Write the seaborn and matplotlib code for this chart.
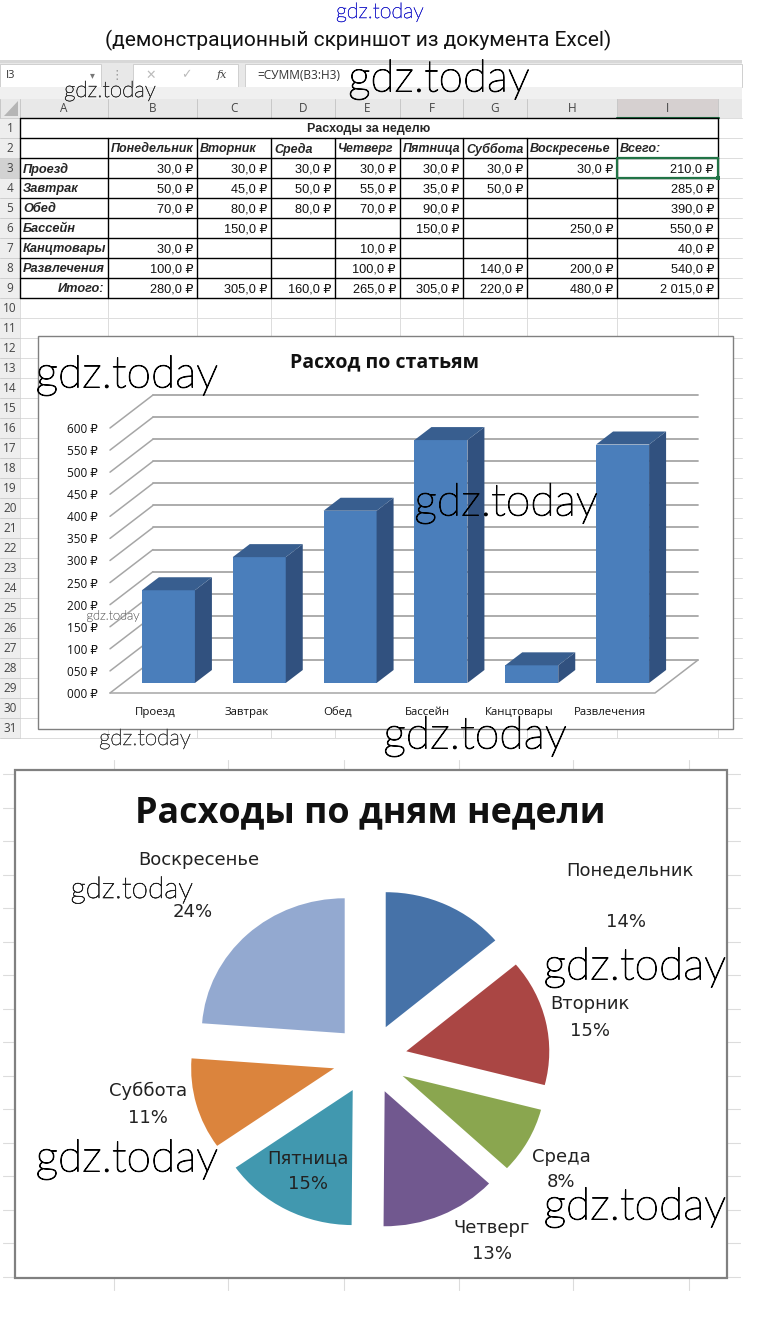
"""Excel screenshot with a table, a 3D-looking bar chart and an exploded pie."""

import matplotlib
matplotlib.use('Agg')
import matplotlib.pyplot as plt
import matplotlib.patheffects as pe
import seaborn as sns
from matplotlib.patches import Polygon, Rectangle

# table
table_title = 'Расходы за неделю'
day_headers = ['Понедельник', 'Вторник', 'Среда', 'Четверг', 'Пятница', 'Суббота', 'Воскресенье', 'Всего:']
row_names = ['Проезд', 'Завтрак', 'Обед', 'Бассейн', 'Канцтовары', 'Развлечения', 'Итого:']
row_travel = ['30,0', '30,0', '30,0', '30,0', '30,0', '30,0', '30,0', '210,0']
row_breakfast = ['50,0', '45,0', '50,0', '55,0', '35,0', '50,0', '', '285,0']
row_lunch = ['70,0', '80,0', '80,0', '70,0', '90,0', '', '', '390,0']
row_pool = ['', '150,0', '', '', '150,0', '', '250,0', '550,0']
row_office = ['30,0', '', '', '10,0', '', '', '', '40,0']
row_fun = ['100,0', '', '', '100,0', '', '140,0', '200,0', '540,0']
row_total = ['280,0', '305,0', '160,0', '265,0', '305,0', '220,0', '480,0', '2 015,0']
table_rows = [row_travel, row_breakfast, row_lunch, row_pool, row_office, row_fun, row_total]
col_letters = ['A', 'B', 'C', 'D', 'E', 'F', 'G', 'H', 'I']

# bar chart
bar_title = 'Расход по статьям'
bar_categories = ['Проезд', 'Завтрак', 'Обед', 'Бассейн', 'Канцтовары', 'Развлечения']
bar_totals = [210, 285, 390, 550, 40, 540]
bar_ticks = [0, 50, 100, 150, 200, 250, 300, 350, 400, 450, 500, 550, 600]

# pie chart
pie_title = 'Расходы по дням недели'
pie_days = ['Понедельник', 'Вторник', 'Среда', 'Четверг', 'Пятница', 'Суббота', 'Воскресенье']
pie_values = [280, 305, 160, 265, 305, 220, 480]
pie_colors = ['#4672A8', '#AA4644', '#8AA64F', '#71588F', '#4198AF', '#DB843D', '#93A9D0']

W, H = 760, 1330
COL_X = [20, 108, 197, 271, 335, 400, 463, 527, 617, 718]
ROW_TOP = 118
ROW_H = 20
SHEET_FONT = ['Liberation Sans', 'DejaVu Sans']
CHART_FONT = ['Open Sans', 'DejaVu Sans']
GRID = '#dcdcdc'


def axes_px(fig, left, top, right, bottom, **kwargs):
    """Add axes given its box in image pixels."""
    return fig.add_axes([left / W, 1 - bottom / H, (right - left) / W, (bottom - top) / H], **kwargs)


def rect(ax, x0, y0, x1, y1, face='white', edge='none', lw=0.0, z=1):
    ax.add_patch(Rectangle((x0, y0), x1 - x0, y1 - y0, facecolor=face, edgecolor=edge, linewidth=lw, zorder=z))


def draw_toolbar(ax):
    rect(ax, 0, 60, 742, 118, face='#e8e8e8')
    rect(ax, 0, 60, 742, 63, face='#d8d8d8')
    rect(ax, 0, 64, 101, 87, edge='#cfcfcf', lw=0.7)
    rect(ax, 133, 64, 238, 87, edge='#cfcfcf', lw=0.7)
    rect(ax, 245, 64, 742, 87, edge='#cfcfcf', lw=0.7)
    rect(ax, 0, 87, 742, 99, face='#f0f0f0')
    ax.text(6, 75.5, 'I3', fontsize=8, color='#333333', va='center', family=CHART_FONT)
    ax.text(92, 75, '▾', fontsize=7, color='#777777', ha='center', va='center', family='DejaVu Sans')
    ax.text(117, 75, '⋮', fontsize=9, color='#999999', ha='center', va='center', family='DejaVu Sans')
    ax.text(151, 75, '✕', fontsize=9, color='#bbbbbb', ha='center', va='center', family='DejaVu Sans')
    ax.text(186, 75, '✓', fontsize=9, color='#bbbbbb', ha='center', va='center', family='DejaVu Sans')
    ax.text(222, 75, 'fx', fontsize=8, color='#444444', ha='center', va='center', style='italic', family='DejaVu Serif')
    ax.text(257, 75.5, '=СУММ(B3:H3)', fontsize=8.6, color='#333333', va='center', family=CHART_FONT)


def draw_sheet_grid(ax):
    # column and row headers, faint cells under the charts
    rect(ax, 617, 99, 719, 118, face='#d6d0d0')
    ax.plot([617, 719], [118, 118], color='#217346', lw=1.5, zorder=3)
    rect(ax, 0, 158, 20, 178, face='#d2d2d2', z=2)
    rect(ax, 0, 118, 20, 738, face='#eeeeee')
    ax.add_patch(Polygon([[18, 101], [18, 116], [4, 116]], facecolor='#b5b5b5', edgecolor='none', zorder=3))
    for i in range(32):
        y = ROW_TOP + i * ROW_H
        ax.plot([0, 20], [y, y], color='#cfcfcf', lw=0.7, zorder=2)
        ax.plot([20, 742], [y, y], color=GRID, lw=0.7, zorder=1)
    for i in range(31):
        ax.text(10, ROW_TOP + (i + 0.5) * ROW_H, str(i + 1), fontsize=8.5, color='#444444',
                ha='center', va='center', zorder=3, family=CHART_FONT)
    for x in [0] + COL_X:
        ax.plot([x, x], [99, 118], color='#c8c8c8', lw=0.7, zorder=2)
        if x > 0:
            ax.plot([x, x], [118, 738], color=GRID, lw=0.7, zorder=1)
    for letter, x0, x1 in zip(col_letters, COL_X[:-1], COL_X[1:]):
        ax.text((x0 + x1) / 2, 109, letter, fontsize=8.5, color='#444444', ha='center', va='center',
                zorder=3, family=CHART_FONT)


def draw_table(ax):
    top, bottom = ROW_TOP, ROW_TOP + 9 * ROW_H
    rect(ax, 20, top, 718, bottom, z=2)
    for i in range(10):
        y = top + i * ROW_H
        ax.plot([20, 718], [y, y], color='black', lw=1.0, zorder=3)
    for x in COL_X:
        y0 = top if x in (20, 718) else top + ROW_H
        ax.plot([x, x], [y0, bottom], color='black', lw=1.0, zorder=3)
    ax.text(369, top + ROW_H / 2 + 1, table_title, fontsize=9, weight='bold', ha='center', va='center',
            zorder=4, family=SHEET_FONT)
    for j, head in enumerate(day_headers):
        ax.text(COL_X[j + 1] + 3, top + 1.5 * ROW_H + 1, head, fontsize=9, weight='bold', style='italic',
                va='center', zorder=4, family=SHEET_FONT, clip_on=True)
    for i, (name, row) in enumerate(zip(row_names, table_rows)):
        y = top + (i + 2.5) * ROW_H + 1
        if name == 'Итого:':
            ax.text(COL_X[1] - 4, y, name, fontsize=9.2, weight='bold', style='italic', ha='right',
                    va='center', zorder=4, family=SHEET_FONT)
        else:
            ax.text(COL_X[0] + 3, y, name, fontsize=9.2, weight='bold', style='italic',
                    va='center', zorder=4, family=SHEET_FONT)
        for j, val in enumerate(row):
            if val:
                ax.text(COL_X[j + 2] - 4, y, val + ' ₽', fontsize=9.2, color='#111111', ha='right',
                        va='center', zorder=4, family=SHEET_FONT)
    # active cell I3
    rect(ax, 617, 158, 718, 178, face='none', edge='#217346', lw=1.6, z=5)
    rect(ax, 716, 176, 720, 180, face='#217346', z=6)


def draw_bar_chart(fig):
    sc = 265 / 600
    step = 545 / 6
    depth_x, depth_y = 43 / step, 33 / sc

    # walls and floor share the tick axis
    ax_wall = axes_px(fig, 110, 428, 655, 693, zorder=2)
    ax_wall.patch.set_visible(False)
    ax_wall.set_xlim(-0.5, 5.5)
    ax_wall.set_ylim(0, 600)
    for v in bar_ticks:
        ax_wall.plot([-0.5, -0.5 + depth_x], [v, v + depth_y], color='#a6a6a6', lw=1.1, clip_on=False)
        ax_wall.plot([-0.5 + depth_x, 5.5 + depth_x], [v + depth_y, v + depth_y],
                     color='#a6a6a6', lw=1.3, clip_on=False)
    ax_wall.plot([-0.5, 5.5, 5.5 + depth_x], [0, 0, depth_y], color='#a6a6a6', lw=1.1, clip_on=False)
    ax_wall.set_xticks(range(len(bar_categories)), bar_categories)
    ax_wall.set_yticks(bar_ticks, [f'{v:03d} ₽' for v in bar_ticks])
    ax_wall.tick_params(axis='y', length=0, pad=9, labelsize=8.5, labelcolor='#111111')
    ax_wall.tick_params(axis='x', length=0, pad=10, labelsize=8.2, labelcolor='#111111')
    sns.despine(ax=ax_wall, left=True, bottom=True)

    # bars sit 10 px up and 13 px right of the front edge of the floor
    ax_bar = axes_px(fig, 123, 418, 668, 683, zorder=3)
    ax_bar.patch.set_visible(False)
    sns.barplot(x=bar_categories, y=bar_totals, color='#4A7EBB', saturation=1, width=53 / step,
                linewidth=0, edgecolor='none', ax=ax_bar)
    ax_bar.set_xlim(-0.5, 5.5)
    ax_bar.set_ylim(0, 600)
    ax_bar.axis('off')
    dx, dy = 17 / step, 13 / sc
    for bar in list(ax_bar.patches):
        x0, x1, top = bar.get_x(), bar.get_x() + bar.get_width(), bar.get_height()
        ax_bar.add_patch(Polygon([[x1, 0], [x1 + dx, dy], [x1 + dx, top + dy], [x1, top]],
                                 facecolor='#31517F', edgecolor='none', clip_on=False))
        ax_bar.add_patch(Polygon([[x0, top], [x1, top], [x1 + dx, top + dy], [x0 + dx, top + dy]],
                                 facecolor='#385E8F', edgecolor='none', clip_on=False))


def draw_pie_chart(fig):
    # box keeps the pie slightly wider than tall, like the stretched original
    rx, ry = 143, 135
    ax_pie = axes_px(fig, 370 - 1.5 * rx, 1059 - 1.5 * ry, 370 + 1.5 * rx, 1059 + 1.5 * ry, zorder=3)
    ax_pie.pie(pie_values, colors=pie_colors, startangle=90, counterclock=False,
               explode=[0.26] * len(pie_values), radius=1, wedgeprops={'linewidth': 0})
    ax_pie.set_aspect('auto')
    ax_pie.set_xlim(-1.5, 1.5)
    ax_pie.set_ylim(-1.5, 1.5)


def draw_pie_frame(ax):
    rect(ax, 15, 770, 727, 1278, edge='#808080', lw=1.6, z=2)
    for x in [114, 228, 344, 459, 573, 689]:
        ax.plot([x, x], [760, 770], color=GRID, lw=0.8, zorder=1)
        ax.plot([x, x], [1278, 1290], color=GRID, lw=0.8, zorder=1)
    for i in range(16):
        y = 774 + i * 33.5
        ax.plot([3, 15], [y, y], color=GRID, lw=0.8, zorder=1)
        ax.plot([727, 740], [y, y], color=GRID, lw=0.8, zorder=1)


def draw_pie_labels(ax):
    spots = [(630, 870, 626, 922), (590, 1004, 590, 1031), (561, 1157, 561, 1182), (492, 1228, 492, 1254),
             (308, 1158, 308, 1184), (148, 1091, 148, 1118), (199, 860, 193, 912)]
    total = sum(pie_values)
    for day, val, (x0, y0, x1, y1) in zip(pie_days, pie_values, spots):
        ax.text(x0, y0, day, fontsize=13, color='#222222', ha='center', va='center', family='DejaVu Sans')
        ax.text(x1, y1, f'{round(val / total * 100)}%', fontsize=13, color='#222222',
                ha='center', va='center', family='DejaVu Sans')
    ax.text(370, 813, pie_title, fontsize=25.8, weight='bold', color='#111111', ha='center', va='center',
            family=CHART_FONT)


def draw_watermarks(ax):
    marks = [(380, 12, 86, '#2a2acc'), (439, 80, 178, 'black'), (110, 91, 90, '#333333'),
             (127, 376, 179, 'black'), (506, 503, 180, 'black'), (113, 616, 52, '#777777'),
             (145, 739, 90, '#444444'), (475, 736, 180, 'black'), (132, 890, 120, '#222222'),
             (635, 968, 179, 'black'), (127, 1160, 179, 'black'), (635, 1208, 179, 'black')]
    for x, y, width, color in marks:
        # the installed light face is very thin, so give it a little body
        ax.text(x, y, 'gdz.today', fontsize=width * 0.179, color=color, ha='center', va='center',
                family=['Lato', 'DejaVu Sans'], weight='light', zorder=10,
                path_effects=[pe.withStroke(linewidth=width * 0.004, foreground=color)])


def main():
    sns.set_theme(style='white')
    plt.rcParams['font.family'] = CHART_FONT

    fig = plt.figure(figsize=(W / 100, H / 100), dpi=100, facecolor='white')

    ax_bg = fig.add_axes([0, 0, 1, 1], zorder=0)
    ax_bg.set_xlim(0, W)
    ax_bg.set_ylim(H, 0)
    ax_bg.axis('off')

    ax_bg.text(358, 40, '(демонстрационный скриншот из документа Excel)', fontsize=15,
               color='#111111', ha='center', va='center', family=['Roboto', 'DejaVu Sans'])
    draw_toolbar(ax_bg)
    draw_sheet_grid(ax_bg)
    draw_table(ax_bg)
    rect(ax_bg, 38, 336, 733, 729, edge='#808080', lw=1.0, z=4)
    ax_bg.text(385, 362, bar_title, fontsize=14, weight='bold', color='#111111', ha='center', va='center',
               zorder=5, family=CHART_FONT)
    draw_pie_frame(ax_bg)

    draw_bar_chart(fig)
    draw_pie_chart(fig)

    ax_top = fig.add_axes([0, 0, 1, 1], zorder=10)
    ax_top.set_xlim(0, W)
    ax_top.set_ylim(H, 0)
    ax_top.axis('off')
    ax_top.patch.set_visible(False)
    draw_pie_labels(ax_top)
    draw_watermarks(ax_top)

    fig.savefig('out.png', dpi=100)


if __name__ == "__main__":
    main()
